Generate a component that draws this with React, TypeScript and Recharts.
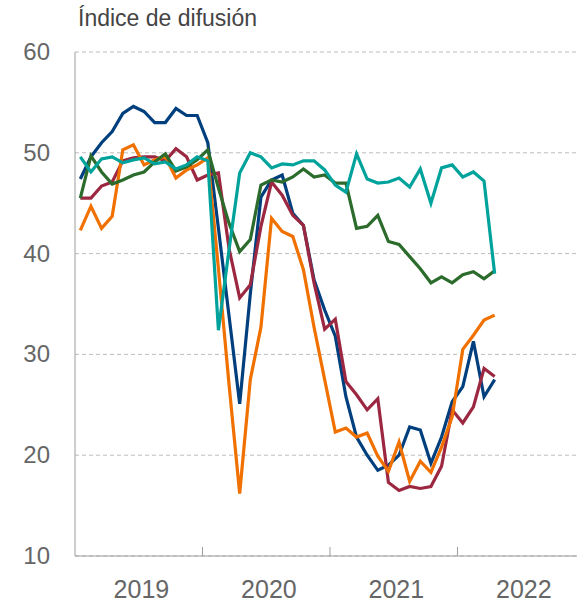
import { CartesianGrid, Line, LineChart, XAxis, YAxis } from "recharts";

// monthly readings, Jan 2019 .. Apr 2022
const months = [
  "ene-19", "feb-19", "mar-19", "abr-19", "may-19", "jun-19", "jul-19", "ago-19", "sep-19", "oct-19", "nov-19", "dic-19",
  "ene-20", "feb-20", "mar-20", "abr-20", "may-20", "jun-20", "jul-20", "ago-20", "sep-20", "oct-20", "nov-20", "dic-20",
  "ene-21", "feb-21", "mar-21", "abr-21", "may-21", "jun-21", "jul-21", "ago-21", "sep-21", "oct-21", "nov-21", "dic-21",
  "ene-22", "feb-22", "mar-22", "abr-22"
];

const navy = [
  47.4, 49.6, 51.0, 52.1, 53.9, 54.6, 54.1, 53.0, 53.0, 54.4, 53.7, 53.7,
  51.0, 42.5, 33.8, 25.1, 36.0, 45.6, 47.3, 47.8, 44.0, 42.8, 37.4, 34.4,
  31.8, 25.8, 21.8, 20.0, 18.5, 19.0, 20.0, 22.8, 22.5, 19.2, 21.8, 25.3,
  26.8, 31.3, 25.8, 27.5
];

const crimson = [
  45.5, 45.5, 46.7, 47.1, 49.2, 49.5, 49.6, 49.6, 49.2, 50.4, 49.6, 47.3,
  47.8, 48.0, 40.5, 35.6, 36.9, 42.7, 47.1, 45.8, 43.8, 42.8, 37.1, 32.5,
  33.5, 27.3, 26.0, 24.5, 25.6, 17.3, 16.5, 16.9, 16.7, 16.9, 18.9, 24.5,
  23.2, 24.8, 28.6, 27.8
];

const orange = [
  42.3, 44.7, 42.5, 43.7, 50.3, 50.8, 48.8, 49.3, 49.6, 47.5, 48.3, 48.8,
  49.5, 38.5, 27.0, 16.2, 27.5, 32.7, 43.5, 42.2, 41.7, 38.4, 32.7, 27.5,
  22.3, 22.7, 21.8, 22.2, 19.9, 18.4, 21.3, 17.4, 19.4, 18.3, 20.8, 23.8,
  30.5, 31.9, 33.4, 33.9
];

const green = [
  45.5, 49.7, 48.1, 46.9, 47.3, 47.8, 48.1, 49.1, 49.9, 48.2, 48.6, 49.3,
  50.3, 46.5, 43.0, 40.2, 41.4, 46.8, 47.3, 47.1, 47.6, 48.4, 47.6, 47.8,
  47.0, 47.0, 42.5, 42.7, 43.8, 41.2, 40.9, 39.7, 38.5, 37.1, 37.7, 37.1,
  37.9, 38.2, 37.5, 38.3
];

const teal = [
  49.6, 48.1, 49.4, 49.6, 49.0, 49.3, 49.5, 48.9, 49.1, 48.4, 48.8, 49.6,
  49.2, 32.4, 40.4, 48.0, 50.0, 49.6, 48.5, 48.9, 48.8, 49.2, 49.2, 48.3,
  46.8, 46.1, 49.9, 47.4, 47.0, 47.1, 47.5, 46.6, 48.4, 45.0, 48.5, 48.8,
  47.6, 48.1, 47.2, 38.0
];

const years = ["2019", "2020", "2021", "2022"];
const yTicks = [10, 20, 30, 40, 50, 60];

const series = [
  { key: "navy", color: "#003f7d" },
  { key: "crimson", color: "#9c2741" },
  { key: "orange", color: "#f07000" },
  { key: "green", color: "#2b6b2b" },
  { key: "teal", color: "#00a39c" }
];

// each month sits in the middle of its slot on a month-count axis
const data = months.map((m, i) => ({
  month: m,
  t: i + 0.5,
  navy: navy[i],
  crimson: crimson[i],
  orange: orange[i],
  green: green[i],
  teal: teal[i]
}));

const yearBounds = years.slice(1).map((_, i) => (i + 1) * 12);
const yearMids = years.map((_, i) => i * 12 + 6.25);
const xTicks = [...yearMids, ...yearBounds].sort((a, b) => a - b);

const font = "'Liberation Sans', Arial, sans-serif";

const XTick = (props: any) => {
  const { x, y, payload } = props;
  const v = payload.value;
  if (v % 12 === 0) {
    return <line x1={x} x2={x} y1={y} y2={y - 9} stroke="#9e9e9e" strokeWidth={1} />;
  }
  return (
    <text x={x} y={y + 42} textAnchor="middle" fill="#666" fontSize={25} fontFamily={font}>
      {years[Math.floor(v / 12)]}
    </text>
  );
};

const YTick = (props: any) => {
  const { x, y, payload } = props;
  return (
    <text x={x - 25} y={y + 8} textAnchor="end" fill="#666" fontSize={24} fontFamily={font}>
      {payload.value}
    </text>
  );
};

export default function App() {
  return (
    <div style={{ position: "absolute", left: 0, top: 0, width: 577, height: 603, background: "#fff" }}>
      <div
        style={{
          position: "absolute",
          left: 78,
          top: 5,
          fontFamily: font,
          fontSize: 23,
          lineHeight: "26px",
          color: "#444",
          whiteSpace: "nowrap"
        }}
      >
        Índice de difusión
      </div>
      <LineChart width={577} height={603} data={data} margin={{ top: 52, right: 0, bottom: 0, left: 0 }}>
        <CartesianGrid vertical={false} strokeDasharray="4 3" stroke="#bdbdbd" />
        <XAxis
          dataKey="t"
          type="number"
          domain={[0, 47.25]}
          ticks={xTicks}
          interval={0}
          height={47}
          tickSize={0}
          tickMargin={0}
          tickLine={false}
          axisLine={{ stroke: "#9e9e9e" }}
          tick={<XTick />}
        />
        <YAxis
          type="number"
          domain={[10, 60]}
          ticks={yTicks}
          interval={0}
          width={75}
          tickSize={0}
          tickMargin={0}
          tickLine={false}
          axisLine={{ stroke: "#9e9e9e" }}
          tick={<YTick />}
        />
        {series.map((s) => (
          <Line
            key={s.key}
            type="linear"
            dataKey={s.key}
            stroke={s.color}
            strokeWidth={3.2}
            dot={false}
            isAnimationActive={false}
          />
        ))}
      </LineChart>
    </div>
  );
}
